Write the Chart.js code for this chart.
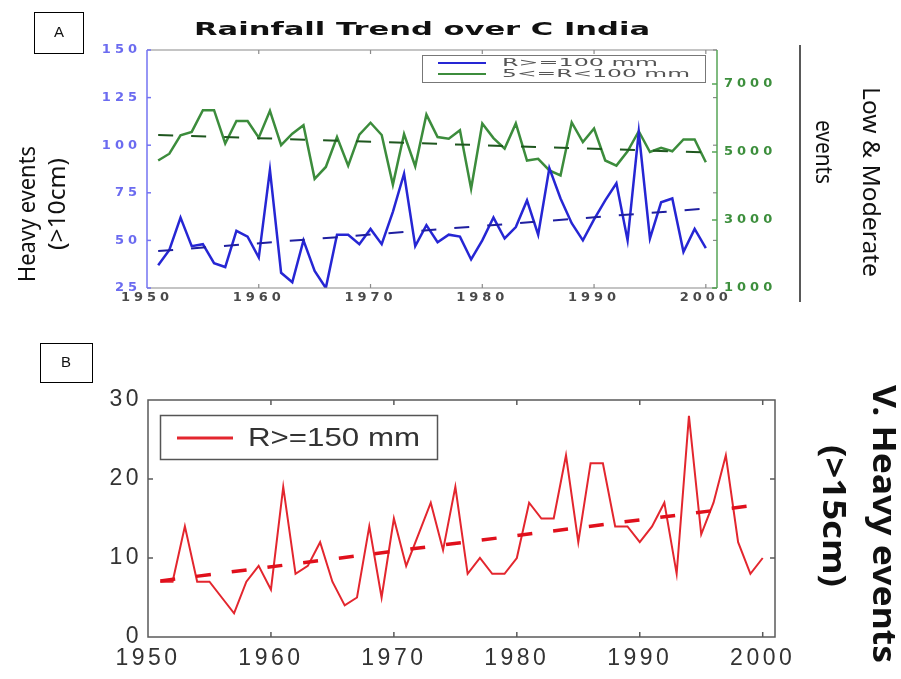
<!DOCTYPE html>
<html>
<head>
<meta charset="utf-8">
<script src="https://cdn.jsdelivr.net/npm/chart.js@4.4.0/dist/chart.umd.min.js"></script>
<style>
  html, body { margin: 0; padding: 0; background: #fff; }
  #wrap { position: relative; width: 901px; height: 679px; overflow: hidden; }
  #chartA { position: absolute; left: 0; top: 0; }
  #chartB { position: absolute; left: 0; top: 330px; }
</style>
</head>
<body>
<div id="wrap">
  <canvas id="chartA" width="901" height="330"></canvas>
  <canvas id="chartB" width="901" height="349"></canvas>
</div>
<script>
// years of the record
const years = [1951, 1952, 1953, 1954, 1955, 1956, 1957, 1958, 1959, 1960,
               1961, 1962, 1963, 1964, 1965, 1966, 1967, 1968, 1969, 1970,
               1971, 1972, 1973, 1974, 1975, 1976, 1977, 1978, 1979, 1980,
               1981, 1982, 1983, 1984, 1985, 1986, 1987, 1988, 1989, 1990,
               1991, 1992, 1993, 1994, 1995, 1996, 1997, 1998, 1999, 2000];

// panel A: R>=100 mm (left axis)
const heavyEvents = [37, 45, 62, 47, 48, 38, 36, 55, 52, 41,
                     87, 33, 28, 50, 34, 25, 53, 53, 48, 56,
                     48, 65, 85, 47, 58, 49, 53, 52, 40, 50,
                     62, 51, 57, 71, 53, 88, 72, 59, 50, 61,
                     71, 80, 50, 107, 51, 70, 72, 44, 56, 46];

// panel A: 5<=R<100 mm (right axis)
const lowModEvents = [4750, 4950, 5490, 5590, 6230, 6230, 5250, 5910, 5910, 5420,
                      6210, 5200, 5540, 5790, 4210, 4560, 5440, 4600, 5510, 5860,
                      5500, 4040, 5530, 4580, 6100, 5440, 5390, 5640, 3920, 5840,
                      5410, 5100, 5840, 4750, 4800, 4460, 4310, 5870, 5290, 5690,
                      4750, 4600, 5020, 5610, 5000, 5120, 5020, 5370, 5370, 4700];

// panel B: R>=150 mm
const vHeavyEvents = [7, 7, 14, 7, 7, 5, 3, 7, 9, 6,
                      19, 8, 9, 12, 7, 4, 5, 14, 5, 15,
                      9, 13, 17, 11, 19, 8, 10, 8, 8, 10,
                      17, 15, 15, 23, 12, 22, 22, 14, 14, 12,
                      14, 17, 8, 28, 13, 17, 23, 12, 8, 10];

// linear trend end points
const trendYears = [1951, 2000];
const heavyTrend = [44.4, 66.7];
const lowModTrend = [5500, 4990];
const vHeavyTrend = [7.1, 16.8];

// tick labels
const yearTicks = [1950, 1960, 1970, 1980, 1990, 2000];
const heavyTicks = [25, 50, 75, 100, 125, 150];
const lowModTicks = [1000, 3000, 5000, 7000];
const vHeavyTicks = [0, 10, 20, 30];

function pts(xs, ys) {
    return xs.map((x, i) => ({ x: x, y: ys[i] }));
}

function fixTicks(list) {
    return scale => { scale.ticks = list.map(v => ({ value: v })); };
}

const plain = v => String(v);

// text squeezed/stretched to a given length
function drawFitText(ctx, text, x, y, o) {
    ctx.save();
    ctx.letterSpacing = '0px';
    ctx.font = o.font;
    ctx.fillStyle = o.color || '#111';
    ctx.translate(x, y);
    ctx.rotate(o.rotate || 0);
    const w = ctx.measureText(text).width;
    if (o.width) ctx.scale(o.width / w, 1);
    ctx.textAlign = o.align || 'center';
    ctx.textBaseline = 'middle';
    ctx.fillText(text, 0, 0);
    ctx.restore();
}

function line(ctx, x1, y1, x2, y2) {
    ctx.beginPath();
    ctx.moveTo(x1, y1);
    ctx.lineTo(x2, y2);
    ctx.stroke();
}

const BLUE = '#2626d4';
const GREEN = '#3c8c3c';
const RED = '#e3262e';

// ---------- panel A ----------
const panelA = {
    id: 'panelA',
    beforeDraw(chart) {
        chart.ctx.letterSpacing = '4px';
    },
    afterDatasetsDraw(chart) {
        const ctx = chart.ctx;
        const a = chart.chartArea;
        const xs = chart.scales.x, yl = chart.scales.yL, yr = chart.scales.yR;
        ctx.save();
        ctx.letterSpacing = '0px';
        ctx.lineWidth = 1.2;
        ctx.strokeStyle = '#8a8a8a';
        line(ctx, a.left, a.top, a.right, a.top);
        line(ctx, a.left, a.bottom, a.right, a.bottom);
        yearTicks.forEach(v => {
            const px = xs.getPixelForValue(v);
            if (px < a.left + 2) return;
            line(ctx, px, a.top, px, a.top + 4);
            line(ctx, px, a.bottom, px, a.bottom - 4);
        });
        heavyTicks.forEach(v => {
            const py = yl.getPixelForValue(v);
            line(ctx, a.right - 4, py, a.right, py);
        });
        ctx.strokeStyle = '#7373f2';
        ctx.lineWidth = 1.5;
        line(ctx, a.left, a.top, a.left, a.bottom);
        heavyTicks.forEach(v => {
            const py = yl.getPixelForValue(v);
            line(ctx, a.left, py, a.left + 4, py);
        });
        ctx.strokeStyle = '#56a456';
        line(ctx, a.right, a.top, a.right, a.bottom);
        lowModTicks.forEach(v => {
            const py = yr.getPixelForValue(v);
            line(ctx, a.right - 5, py, a.right, py);
        });
        ctx.restore();
    },
    afterDraw(chart) {
        const ctx = chart.ctx;
        ctx.save();
        ctx.letterSpacing = '0px';
        // panel letter
        ctx.strokeStyle = '#000';
        ctx.lineWidth = 1;
        ctx.strokeRect(34.5, 12.5, 49, 41);
        drawFitText(ctx, 'A', 59, 33, { font: '15px "Liberation Sans"', color: '#111' });
        // title
        drawFitText(ctx, 'Rainfall Trend over C India', 422, 30,
            { font: 'bold 18px "DejaVu Sans"', color: '#111', width: 456 });
        // legend
        ctx.strokeStyle = '#777';
        ctx.strokeRect(422.5, 55.5, 283, 27);
        const items = chart.data.datasets.filter(d => d.label);
        items.forEach((d, i) => {
            const y = 63 + i * 11;
            ctx.strokeStyle = d.borderColor;
            ctx.lineWidth = 2;
            line(ctx, 438, y, 486, y);
            drawFitText(ctx, d.label, 502, y, {
                font: '11px "DejaVu Sans"', color: '#555', align: 'left',
                width: i === 0 ? 156 : 188
            });
        });
        // axis titles
        drawFitText(ctx, 'Heavy events', 28, 214,
            { font: '24px "Noto Sans"', color: '#111', rotate: -Math.PI / 2, width: 136 });
        drawFitText(ctx, '(>10cm)', 58, 204,
            { font: '24px "Noto Sans"', color: '#111', rotate: -Math.PI / 2, width: 92 });
        ctx.strokeStyle = '#222';
        ctx.lineWidth = 1.5;
        line(ctx, 800, 45, 800, 302);
        drawFitText(ctx, 'Low & Moderate', 870, 182,
            { font: '24px "Noto Sans"', color: '#111', rotate: Math.PI / 2, width: 190 });
        drawFitText(ctx, 'events', 823, 152,
            { font: '24px "Noto Sans"', color: '#111', rotate: Math.PI / 2, width: 64 });
        ctx.restore();
    }
};

new Chart(document.getElementById('chartA'), {
    type: 'line',
    data: {
        datasets: [
            { label: 'R>=100 mm', data: pts(years, heavyEvents), yAxisID: 'yL',
              borderColor: BLUE, borderWidth: 2.5, order: 1 },
            { label: '5<=R<100 mm', data: pts(years, lowModEvents), yAxisID: 'yR',
              borderColor: GREEN, borderWidth: 2.5, order: 1 },
            { label: '', data: pts(trendYears, heavyTrend), yAxisID: 'yL',
              borderColor: '#1f1fa0', borderWidth: 2, borderDash: [15, 18], order: 0 },
            { label: '', data: pts(trendYears, lowModTrend), yAxisID: 'yR',
              borderColor: '#1e561e', borderWidth: 2, borderDash: [15, 18], order: 0 }
        ]
    },
    options: {
        responsive: false,
        animation: false,
        layout: { padding: { top: 50, left: 0, right: 0, bottom: 0 } },
        elements: { point: { radius: 0 }, line: { tension: 0 } },
        plugins: { legend: { display: false }, tooltip: { enabled: false } },
        scales: {
            x: {
                type: 'linear', min: 1950, max: 2001,
                afterBuildTicks: fixTicks(yearTicks),
                afterFit: s => { s.height = 42; },
                grid: { display: false, drawTicks: false },
                border: { display: false },
                ticks: { color: '#4a4a4a', padding: 2, maxRotation: 0, callback: plain,
                         font: { family: 'DejaVu Sans', size: 13, weight: 'bold' } }
            },
            yL: {
                position: 'left', min: 25, max: 150,
                afterBuildTicks: fixTicks(heavyTicks),
                afterFit: s => { s.width = 147; },
                grid: { display: false, drawTicks: false },
                border: { display: false },
                ticks: { color: '#6b6bf0', padding: 6, callback: plain,
                         font: { family: 'DejaVu Sans', size: 13, weight: 'bold' } }
            },
            yR: {
                position: 'right', min: 1000, max: 8000,
                afterBuildTicks: fixTicks(lowModTicks),
                afterFit: s => { s.width = 184; },
                grid: { display: false, drawTicks: false },
                border: { display: false },
                ticks: { color: '#3d8f3d', padding: 7, callback: plain,
                         font: { family: 'DejaVu Sans', size: 13, weight: 'bold' } }
            }
        }
    },
    plugins: [panelA]
});

// ---------- panel B ----------
const panelB = {
    id: 'panelB',
    beforeDraw(chart) {
        chart.ctx.letterSpacing = '3.5px';
    },
    afterDatasetsDraw(chart) {
        const ctx = chart.ctx;
        const a = chart.chartArea;
        const xs = chart.scales.x, ys = chart.scales.y;
        ctx.save();
        ctx.letterSpacing = '0px';
        ctx.strokeStyle = '#5a5a5a';
        ctx.lineWidth = 1.5;
        ctx.strokeRect(a.left, a.top, a.right - a.left, a.bottom - a.top);
        yearTicks.forEach(v => {
            const px = xs.getPixelForValue(v);
            if (px < a.left + 2) return;
            line(ctx, px, a.top, px, a.top + 5);
            line(ctx, px, a.bottom, px, a.bottom - 5);
        });
        vHeavyTicks.forEach(v => {
            const py = ys.getPixelForValue(v);
            if (py > a.bottom - 2 || py < a.top + 2) return;
            line(ctx, a.left, py, a.left + 5, py);
            line(ctx, a.right - 5, py, a.right, py);
        });
        ctx.restore();
    },
    afterDraw(chart) {
        const ctx = chart.ctx;
        ctx.save();
        ctx.letterSpacing = '0px';
        ctx.strokeStyle = '#000';
        ctx.lineWidth = 1;
        ctx.strokeRect(40.5, 13.5, 52, 39);
        drawFitText(ctx, 'B', 66, 33, { font: '15px "Liberation Sans"', color: '#111' });
        // legend
        ctx.strokeStyle = '#555';
        ctx.lineWidth = 1.5;
        ctx.strokeRect(160.5, 85.5, 277, 44);
        const d = chart.data.datasets[0];
        ctx.strokeStyle = d.borderColor;
        ctx.lineWidth = 3;
        line(ctx, 177, 108, 233, 108);
        drawFitText(ctx, d.label, 248, 109,
            { font: '25px "Liberation Sans"', color: '#333', align: 'left', width: 172 });
        // right title
        drawFitText(ctx, 'V. Heavy events', 882, 194,
            { font: 'bold 32px "Noto Sans"', color: '#111', rotate: Math.PI / 2, width: 278 });
        drawFitText(ctx, '(>15cm)', 832, 186,
            { font: 'bold 32px "Noto Sans"', color: '#111', rotate: Math.PI / 2, width: 142 });
        ctx.restore();
    }
};

new Chart(document.getElementById('chartB'), {
    type: 'line',
    data: {
        datasets: [
            { label: 'R>=150 mm', data: pts(years, vHeavyEvents),
              borderColor: RED, borderWidth: 2, order: 1 },
            { label: '', data: pts(trendYears, vHeavyTrend),
              borderColor: '#e0101c', borderWidth: 3.5, borderDash: [15, 21], order: 0 }
        ]
    },
    options: {
        responsive: false,
        animation: false,
        layout: { padding: { top: 70, left: 0, right: 126, bottom: 0 } },
        elements: { point: { radius: 0 }, line: { tension: 0 } },
        plugins: { legend: { display: false }, tooltip: { enabled: false } },
        scales: {
            x: {
                type: 'linear', min: 1950, max: 2001,
                afterBuildTicks: fixTicks(yearTicks),
                afterFit: s => { s.height = 42; },
                grid: { display: false, drawTicks: false },
                border: { display: false },
                ticks: { color: '#333', padding: 8, maxRotation: 0, callback: plain,
                         font: { family: 'Liberation Sans', size: 23 } }
            },
            y: {
                min: 0, max: 30,
                afterBuildTicks: fixTicks(vHeavyTicks),
                afterFit: s => { s.width = 148; },
                grid: { display: false, drawTicks: false },
                border: { display: false },
                ticks: { color: '#333', padding: 6, callback: plain,
                         font: { family: 'Liberation Sans', size: 23 } }
            }
        }
    },
    plugins: [panelB]
});
</script>
</body>
</html>
